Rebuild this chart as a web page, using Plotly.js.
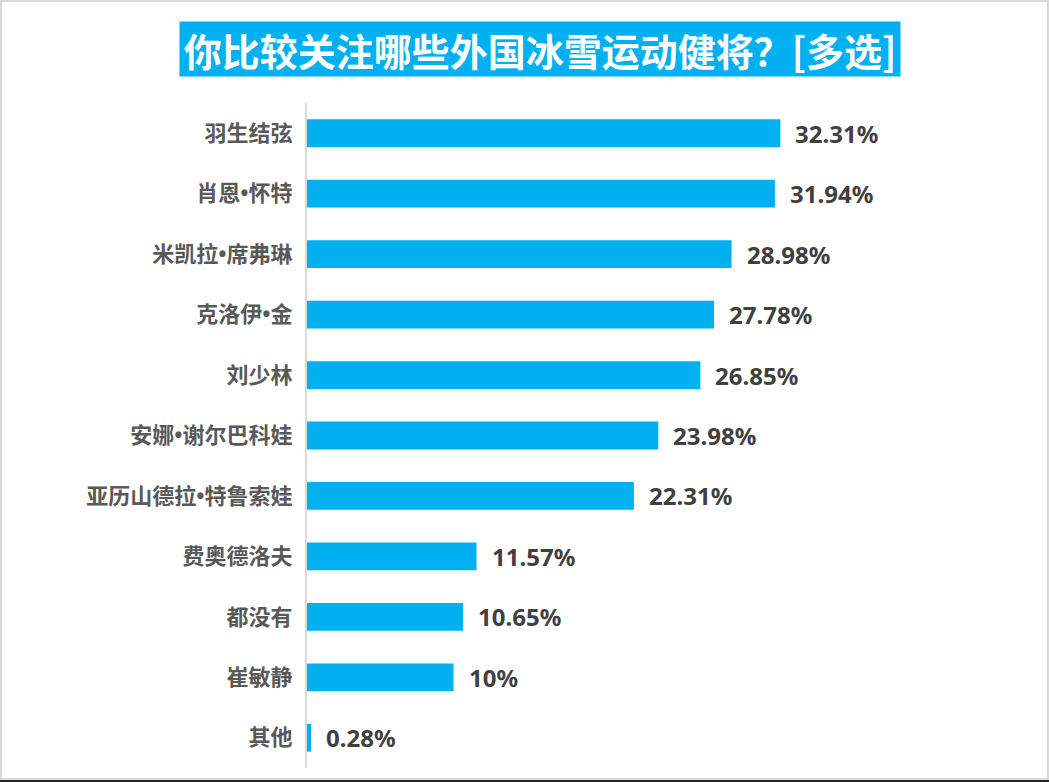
<!DOCTYPE html>
<html>
<head>
<meta charset="utf-8">
<script src="https://cdn.plot.ly/plotly-3.0.1.min.js"></script>
<style>
    body { margin: 0; background: #fff; }
    #wrap { position: relative; width: 1049px; height: 782px; }
    #chart { width: 1049px; height: 782px; }
    #frame {
        position: absolute; left: 0; top: 0; width: 1049px; height: 780px;
        box-sizing: border-box; border: 2px solid #d9d9d9; pointer-events: none;
    }
    #bottomLine {
        position: absolute; left: 0; top: 780px; width: 1049px; height: 2px;
        background: #262626; pointer-events: none;
    }
</style>
</head>
<body>
<div id="wrap">
    <div id="chart"></div>
    <div id="frame"></div>
    <div id="bottomLine"></div>
</div>
<script>
var chartTitle = '你比较关注哪些外国冰雪运动健将？[多选]';
var athletes = ['羽生结弦', '肖恩•怀特', '米凯拉•席弗琳', '克洛伊•金', '刘少林',
    '安娜•谢尔巴科娃', '亚历山德拉•特鲁索娃', '费奥德洛夫', '都没有', '崔敏静', '其他'];
var shares = [32.31, 31.94, 28.98, 27.78, 26.85, 23.98, 22.31, 11.57, 10.65, 10, 0.28];
var shareLabels = ['32.31%', '31.94%', '28.98%', '27.78%', '26.85%', '23.98%',
    '22.31%', '11.57%', '10.65%', '10%', '0.28%'];

// latin font first so the middle dot stays narrow, CJK falls back
var labelFont = '"Noto Sans", "Noto Sans CJK SC", sans-serif';
var cjkFont = '"Noto Sans CJK SC", "Noto Sans", sans-serif';

var data = [{
    type: 'bar',
    orientation: 'h',
    x: shares,
    y: athletes,
    marker: { color: '#00b0f0' },
    hoverinfo: 'none'
}];

var annotations = [];
for (let i = 0; i < shares.length; i++) {
    annotations.push({
        x: shares[i],
        y: athletes[i],
        xref: 'x',
        yref: 'y',
        text: '<b>' + shareLabels[i] + '</b>',
        showarrow: false,
        xanchor: 'left',
        xshift: 13,
        font: { family: labelFont, size: 24, color: '#404040' }
    });
}
annotations.push({
    x: 0.398,
    y: 1.081,
    xref: 'paper',
    yref: 'paper',
    text: '<b>' + chartTitle + '</b>',
    showarrow: false,
    xanchor: 'center',
    yanchor: 'middle',
    width: 716,
    height: 50,
    borderpad: 2,
    bgcolor: '#00b0f0',
    font: { family: cjkFont, size: 38, color: '#ffffff' }
});

var layout = {
    width: 1049,
    height: 782,
    margin: { l: 307, r: 156, t: 103, b: 14 },
    paper_bgcolor: '#ffffff',
    plot_bgcolor: '#ffffff',
    showlegend: false,
    bargap: 0.54,
    xaxis: {
        range: [0, 40],
        visible: false,
        fixedrange: true
    },
    yaxis: {
        autorange: 'reversed',
        showline: true,
        linecolor: '#d9d9d9',
        linewidth: 2,
        showgrid: false,
        zeroline: false,
        ticks: '',
        ticklabelstandoff: 8,
        tickfont: { family: labelFont, size: 22, color: '#595959', weight: 'bold' },
        fixedrange: true
    },
    annotations: annotations
};

Plotly.newPlot('chart', data, layout, { displayModeBar: false, staticPlot: true });
</script>
</body>
</html>
